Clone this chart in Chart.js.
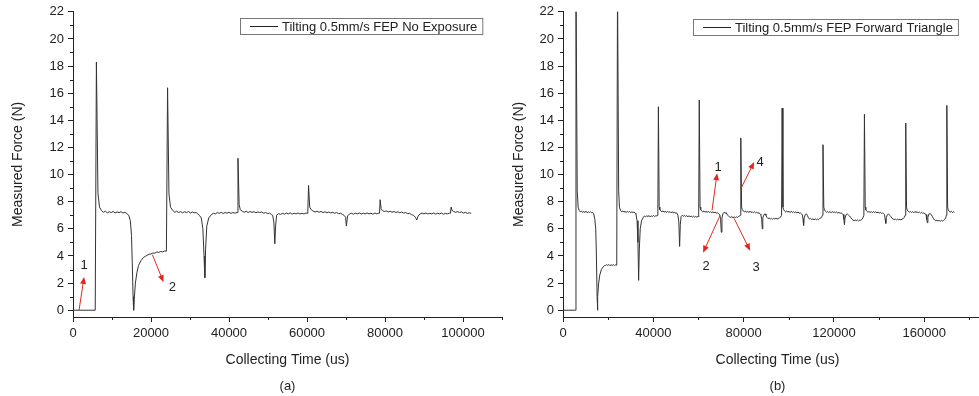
<!DOCTYPE html>
<html><head><meta charset="utf-8">
<script src="https://cdn.jsdelivr.net/npm/chart.js@4.4.1/dist/chart.umd.min.js"></script>
<style>
html,body{margin:0;padding:0;background:#fff;overflow:hidden;width:979px;height:396px}
#a{position:absolute;left:0;top:0}
#b{position:absolute;left:490px;top:0}
</style></head><body>
<canvas id="a" width="505" height="396"></canvas>
<canvas id="b" width="502" height="396"></canvas>
<script>
// (a) no exposure: [time us, force N]
const leftTrace = [
  [0,0],[5700,0],[6000,18.3],[6400,8.6],[6800,7.6],[7300,7.35],[7800,7.22],[8300,7.3],[8800,7.18],[9300,7.26],
  [9800,7.2],[10300,7.28],[10800,7.17],[11300,7.25],[11800,7.19],[12300,7.27],[12800,7.16],[13300,7.22],[13800,7.12],
  [14300,7.0],[14700,6.6],[15000,5.5],[15200,3.5],[15400,1],[15550,0],[15700,0.8],[16000,2.0],[16400,2.8],[16800,3.3],
  [17400,3.65],[18100,3.9],[18600,3.98],[19000,4.05],[19500,4.12],[20000,4.15],[20500,4.22],[21000,4.2],[21500,4.3],
  [22000,4.26],[22500,4.33],[23000,4.3],[23500,4.37],[23950,4.35],[24250,16.4],[24600,8.6],[25000,7.6],[25600,7.35],
  [26100,7.22],[26600,7.3],[27100,7.2],[27600,7.27],[28100,7.18],[28600,7.26],[29100,7.2],[29600,7.28],[30100,7.17],
  [30600,7.24],[31100,7.18],[31600,7.2],[32000,7.1],[32400,7.0],[32900,6.8],[33300,6],[33600,4],[33800,2.4],[34000,4.5],
  [34300,6.2],[34800,6.8],[35500,7.05],[36000,7.15],[36500,7.1],[37000,7.2],[37500,7.14],[38000,7.22],[38500,7.13],
  [39000,7.2],[39500,7.15],[40000,7.23],[40500,7.14],[41000,7.2],[41500,7.16],[42100,7.2],[42300,11.2],[42600,7.8],
  [42900,7.4],[43400,7.3],[43900,7.22],[44400,7.3],[44900,7.2],[45400,7.28],[45900,7.21],[46400,7.27],[46900,7.18],
  [47400,7.25],[47900,7.2],[48400,7.24],[48900,7.15],[49400,7.2],[49900,7.12],[50400,7.16],[50900,7.05],[51200,7.0],
  [51500,6.5],[51750,4.9],[51950,6.2],[52200,7.0],[52700,7.12],[53200,7.06],[53700,7.15],[54200,7.08],[54700,7.16],
  [55200,7.1],[55700,7.18],[56200,7.08],[56700,7.15],[57200,7.1],[57700,7.17],[58200,7.09],[58700,7.15],[59200,7.1],
  [59700,7.16],[60200,7.15],[60400,9.2],[60700,7.6],[61100,7.4],[61600,7.3],[62100,7.24],[62600,7.3],[63100,7.22],
  [63600,7.28],[64100,7.2],[64600,7.26],[65100,7.18],[65600,7.24],[66100,7.17],[66600,7.22],[67100,7.15],[67600,7.2],
  [68100,7.12],[68600,7.15],[69100,7.06],[69500,7.0],[69900,6.85],[70100,6.2],[70400,6.95],[70900,7.1],[71400,7.15],
  [71900,7.08],[72400,7.16],[72900,7.1],[73400,7.17],[73900,7.09],[74400,7.16],[74900,7.1],[75400,7.17],[75900,7.1],
  [76400,7.15],[76900,7.08],[77400,7.16],[77900,7.1],[78400,7.15],[78600,7.15],[78750,8.15],[79000,7.5],[79300,7.35],
  [79800,7.28],[80300,7.32],[80800,7.24],[81300,7.3],[81800,7.22],[82300,7.28],[82800,7.2],[83300,7.26],[83800,7.18],
  [84300,7.24],[84800,7.16],[85300,7.2],[85800,7.12],[86300,7.14],[86800,7.05],[87300,7.0],[87800,6.85],[88150,6.65],
  [88500,6.95],[89000,7.1],[89500,7.16],[90000,7.1],[90500,7.17],[91000,7.09],[91500,7.15],[92000,7.1],[92500,7.17],
  [93000,7.09],[93500,7.15],[94000,7.1],[94500,7.16],[95000,7.08],[95500,7.14],[96000,7.1],[96500,7.16],[96800,7.15],
  [96950,7.6],[97200,7.35],[97600,7.28],[98100,7.22],[98600,7.27],[99100,7.2],[99600,7.25],[100100,7.16],[100600,7.22],
  [101100,7.14],[101600,7.18],[102100,7.15]
];

// (b) forward triangle: [time us, force N]
const rightTrace = [
  [0,0],[5600,0],[5750,24],[6300,8.8],[6700,7.6],[7200,7.35],[7700,7.25],[8200,7.32],[8700,7.2],[9200,7.28],[9700,7.2],
  [10200,7.3],[10700,7.18],[11200,7.26],[11700,7.2],[12200,7.27],[12700,7.18],[13200,7.2],[13600,7.1],[14100,6.7],
  [14500,6.0],[14800,4],[15100,1],[15250,0],[15450,1],[15800,2.0],[16300,2.6],[17000,3.0],[17800,3.2],[18300,3.28],
  [18800,3.3],[19300,3.36],[19800,3.3],[20300,3.37],[20800,3.28],[21300,3.35],[21800,3.3],[22300,3.36],[22800,3.29],
  [23300,3.35],[23800,3.32],[24150,24],[24650,8.8],[25000,7.6],[25500,7.35],[26000,7.25],[26500,7.32],[27000,7.22],
  [27500,7.3],[28000,7.2],[28500,7.3],[29000,7.22],[29500,7.28],[30000,7.18],[30500,7.26],[31000,7.2],[31500,7.24],
  [32000,7.15],[32300,7.1],[32800,6.6],[33200,5],[33500,2.2],[33800,4.5],[34200,6.0],[34800,6.6],[35600,6.85],
  [36100,6.95],[36600,6.88],[37100,6.97],[37600,6.9],[38100,6.98],[38600,6.88],[39100,6.96],[39600,6.9],[40100,6.99],
  [40600,6.9],[41100,6.97],[41600,6.95],[42000,7.0],[42250,15.0],[42600,7.6],[42900,7.4],[43300,7.32],[43800,7.25],
  [44300,7.33],[44800,7.22],[45300,7.3],[45800,7.2],[46300,7.3],[46800,7.2],[47300,7.27],[47800,7.18],[48300,7.26],
  [48800,7.18],[49300,7.24],[49800,7.15],[50300,7.18],[50900,7.0],[51300,6.5],[51650,4.7],[51950,6.3],[52300,6.9],
  [52800,7.0],[53300,6.92],[53800,7.0],[54300,6.9],[54800,6.98],[55300,6.88],[55800,6.97],[56300,6.88],[56800,6.95],
  [57300,6.86],[57800,6.94],[58300,6.86],[58800,6.92],[59300,6.85],[59800,6.92],[60100,6.9],[60350,15.5],[60700,7.6],
  [61000,7.42],[61400,7.32],[61900,7.25],[62400,7.32],[62900,7.22],[63400,7.3],[63900,7.2],[64400,7.3],[64900,7.2],
  [65400,7.27],[65900,7.18],[66400,7.26],[66900,7.18],[67400,7.24],[67900,7.15],[68400,7.2],[68900,7.1],[69400,7.05],
  [69800,6.7],[70100,5.75],[70400,6.8],[70800,7.1],[71300,7.22],[71800,7.15],[72300,7.2],[72800,7.02],[73300,6.95],
  [73800,6.88],[74300,6.85],[74800,6.9],[75300,6.82],[75800,6.88],[76300,6.83],[76800,6.88],[77300,6.85],[77800,6.92],
  [78300,6.95],[78500,7.0],[78750,12.7],[79100,7.6],[79400,7.42],[79800,7.32],[80300,7.25],[80800,7.32],[81300,7.22],
  [81800,7.3],[82300,7.2],[82800,7.3],[83300,7.2],[83800,7.27],[84300,7.18],[84800,7.26],[85300,7.18],[85800,7.24],
  [86300,7.15],[86800,7.18],[87300,7.1],[87600,7.05],[88000,6.7],[88250,6.0],[88500,6.8],[89000,7.05],[89500,7.1],
  [89900,7.0],[90300,6.85],[90800,6.75],[91300,6.8],[91800,6.72],[92300,6.78],[92800,6.7],[93300,6.78],[93800,6.72],
  [94300,6.78],[94800,6.72],[95300,6.76],[95800,6.8],[96300,6.85],[96800,7.0],[97050,14.9],[97400,7.6],[97700,7.42],
  [98100,7.32],[98600,7.25],[99100,7.32],[99600,7.22],[100100,7.3],[100600,7.2],[101100,7.3],[101600,7.2],[102100,7.27],
  [102600,7.18],[103100,7.26],[103600,7.18],[104100,7.24],[104600,7.15],[105100,7.18],[105600,7.1],[106000,7.05],
  [106300,6.7],[106550,6.25],[106800,6.8],[107300,7.05],[107800,7.1],[108200,7.0],[108700,6.82],[109200,6.72],
  [109700,6.76],[110200,6.68],[110700,6.74],[111200,6.66],[111700,6.74],[112200,6.67],[112700,6.72],[113200,6.68],
  [113700,6.76],[114200,6.8],[114600,6.88],[114900,7.0],[115150,12.2],[115500,7.6],[115800,7.4],[116200,7.3],
  [116700,7.22],[117200,7.28],[117700,7.2],[118200,7.27],[118700,7.18],[119200,7.28],[119700,7.2],[120200,7.26],
  [120700,7.17],[121200,7.24],[121700,7.16],[122200,7.22],[122700,7.14],[123200,7.18],[123700,7.1],[124100,7.05],
  [124400,6.7],[124650,6.3],[124900,6.8],[125400,7.05],[125900,7.1],[126400,7.02],[126900,6.95],[127400,6.85],
  [127900,6.72],[128400,6.65],[128900,6.6],[129400,6.66],[129900,6.6],[130400,6.65],[130900,6.58],[131400,6.64],
  [131900,6.62],[132400,6.7],[132800,6.8],[133250,7.0],[133500,14.45],[133850,7.6],[134100,7.4],[134550,7.3],
  [135050,7.22],[135550,7.28],[136050,7.2],[136550,7.27],[137050,7.18],[137550,7.28],[138050,7.2],[138550,7.26],
  [139050,7.17],[139550,7.24],[140050,7.16],[140550,7.22],[141050,7.14],[141550,7.18],[142000,7.1],[142400,7.05],
  [142700,6.7],[142950,6.4],[143200,6.85],[143700,7.05],[144200,7.1],[144700,7.0],[145200,6.9],[145700,6.78],
  [146200,6.72],[146700,6.68],[147200,6.72],[147700,6.66],[148200,6.72],[148700,6.66],[149200,6.7],[149700,6.66],
  [150200,6.72],[150700,6.76],[151100,6.82],[151550,7.0],[151800,13.8],[152150,7.6],[152400,7.4],[152850,7.3],
  [153350,7.22],[153850,7.28],[154350,7.2],[154850,7.27],[155350,7.18],[155850,7.28],[156350,7.2],[156850,7.26],
  [157350,7.17],[157850,7.24],[158350,7.16],[158850,7.22],[159350,7.14],[159850,7.18],[160300,7.1],[160800,7.05],
  [161100,6.7],[161350,6.45],[161600,6.85],[162100,7.1],[162600,7.12],[163100,7.05],[163600,6.9],[164100,6.75],
  [164600,6.65],[165100,6.6],[165600,6.64],[166100,6.57],[166600,6.62],[167100,6.56],[167600,6.62],[168100,6.58],
  [168600,6.62],[169100,6.7],[169500,6.8],[169750,7.0],[170000,15.1],[170350,7.6],[170600,7.4],[171000,7.3],
  [171500,7.22],[172000,7.3],[172500,7.2],[173000,7.26],[173400,7.22]
];

const yTicks = [0,2,4,6,8,10,12,14,16,18,20,22];
const yMinor = [1,3,5,7,9,11,13,15,17,19,21];
const leftXTicks = [0,20000,40000,60000,80000,100000];
const leftXMinor = [10000,30000,50000,70000,90000,110000];
const rightXTicks = [0,40000,80000,120000,160000];
const rightXMinor = [20000,60000,100000,140000,180000];

// red arrows [x1,y1,x2,y2] and their numbers [x,y,text], in data units
const leftArrows = [[1550,0,2840,2.45],[20360,4.09,23200,2.08]];
const leftMarks = [[2840,3.3,'1'],[25500,1.7,'2']];
const rightArrows = [[66000,7.36,68250,10.1],[69570,6.99,62040,4.24],[75780,6.77,82870,4.39],[78900,9.0,84640,10.93]];
const rightMarks = [[68700,10.55,'1'],[63370,3.2,'2'],[85530,3.12,'3'],[87300,10.93,'4']];

const FONT = '"Liberation Sans", Arial, sans-serif';
const INK = '#222';

const decor = {
  id: 'decor',
  afterDraw(chart, args, o) {
    const {ctx, chartArea: a, scales: {x, y}} = chart;
    ctx.save();
    ctx.strokeStyle = INK;
    ctx.lineWidth = 1;
    ctx.beginPath();
    o.minorX.forEach(v => {
      const p = Math.round(x.getPixelForValue(v)) + 0.5;
      ctx.moveTo(p, a.bottom); ctx.lineTo(p, a.bottom + 3);
    });
    o.minorY.forEach(v => {
      const p = Math.round(y.getPixelForValue(v)) + 0.5;
      ctx.moveTo(a.left, p); ctx.lineTo(a.left - 3, p);
    });
    ctx.stroke();

    // arrows
    ctx.strokeStyle = ctx.fillStyle = '#e5261f';
    o.arrows.forEach(([x1, y1, x2, y2]) => {
      const px1 = x.getPixelForValue(x1), py1 = y.getPixelForValue(y1);
      const px2 = x.getPixelForValue(x2), py2 = y.getPixelForValue(y2);
      const ang = Math.atan2(py2 - py1, px2 - px1);
      ctx.beginPath();
      ctx.moveTo(px1, py1); ctx.lineTo(px2 - 5 * Math.cos(ang), py2 - 5 * Math.sin(ang));
      ctx.stroke();
      ctx.beginPath();
      ctx.moveTo(px2, py2);
      ctx.lineTo(px2 - 7 * Math.cos(ang) + 3 * Math.sin(ang), py2 - 7 * Math.sin(ang) - 3 * Math.cos(ang));
      ctx.lineTo(px2 - 7 * Math.cos(ang) - 3 * Math.sin(ang), py2 - 7 * Math.sin(ang) + 3 * Math.cos(ang));
      ctx.closePath();
      ctx.fill();
    });

    ctx.fillStyle = INK;
    ctx.font = '13px ' + FONT;
    ctx.textAlign = 'center';
    ctx.textBaseline = 'middle';
    o.marks.forEach(([mx, my, t]) => ctx.fillText(t, x.getPixelForValue(mx), y.getPixelForValue(my)));

    // framed legend
    const label = chart.data.datasets[0].label;
    const w = ctx.measureText(label).width + 47;
    const L = o.legend;
    ctx.strokeStyle = '#777';
    ctx.strokeRect(L.x + 0.5, L.y + 0.5, w, 16);
    ctx.strokeStyle = INK;
    ctx.beginPath();
    ctx.moveTo(L.x + 10, L.y + 8.5); ctx.lineTo(L.x + 38, L.y + 8.5);
    ctx.stroke();
    ctx.textAlign = 'left';
    ctx.fillText(label, L.x + 42, L.y + 9);
    ctx.restore();
  }
};

function makeChart(id, label, trace, xMax, xTicks, xMinor, arrows, marks, legend, sub, padRight, yTitlePad) {
  const pts = trace.map(p => ({x: p[0], y: p[1]}));
  return new Chart(document.getElementById(id), {
    type: 'line',
    data: { datasets: [{
      label: label,
      data: pts,
      borderColor: '#333',
      borderWidth: 1,
      pointRadius: 0,
      tension: 0,
      fill: false
    }]},
    options: {
      responsive: false,
      animation: false,
      devicePixelRatio: 1,
      layout: { padding: { top: 9, right: padRight, left: 0, bottom: 0 } },
      plugins: {
        legend: { display: false },
        tooltip: { enabled: false },
        subtitle: { display: true, text: sub, position: 'bottom', fullSize: false,
          color: INK, font: { family: FONT, size: 13 }, padding: { top: 10, bottom: 2 } },
        decor: { minorX: xMinor, minorY: yMinor, arrows: arrows, marks: marks, legend: legend }
      },
      scales: {
        x: {
          type: 'linear', min: 0, max: xMax,
          afterBuildTicks: s => { s.ticks = xTicks.map(v => ({value: v})); },
          ticks: { color: INK, font: { family: FONT, size: 13 }, padding: 4, maxRotation: 0,
            callback: v => String(v) },
          grid: { drawOnChartArea: false, tickLength: 5, tickColor: INK },
          border: { color: INK },
          title: { display: true, text: 'Collecting Time (us)', color: INK,
            font: { family: FONT, size: 14 }, padding: { top: 6, bottom: 0 } }
        },
        y: {
          min: -0.5, max: 22,
          afterBuildTicks: s => { s.ticks = yTicks.map(v => ({value: v})); },
          afterFit: s => { s.width = 73; },
          ticks: { color: INK, font: { family: FONT, size: 13 }, padding: 4 },
          grid: { drawOnChartArea: false, tickLength: 5, tickColor: INK },
          border: { color: INK },
          title: { display: true, text: 'Measured Force (N)', color: INK,
            font: { family: FONT, size: 14 }, padding: { top: yTitlePad, bottom: 0 } }
        }
      }
    },
    plugins: [decor]
  });
}

makeChart('a', 'Tilting 0.5mm/s FEP No Exposure', leftTrace, 110000,
  leftXTicks, leftXMinor, leftArrows, leftMarks, {x: 240, y: 18}, '(a)', 3, 10);
makeChart('b', 'Tilting 0.5mm/s FEP Forward Triangle', rightTrace, 190000,
  rightXTicks, rightXMinor, rightArrows, rightMarks, {x: 203, y: 19}, '(b)', 0, 21);
</script>
</body></html>
